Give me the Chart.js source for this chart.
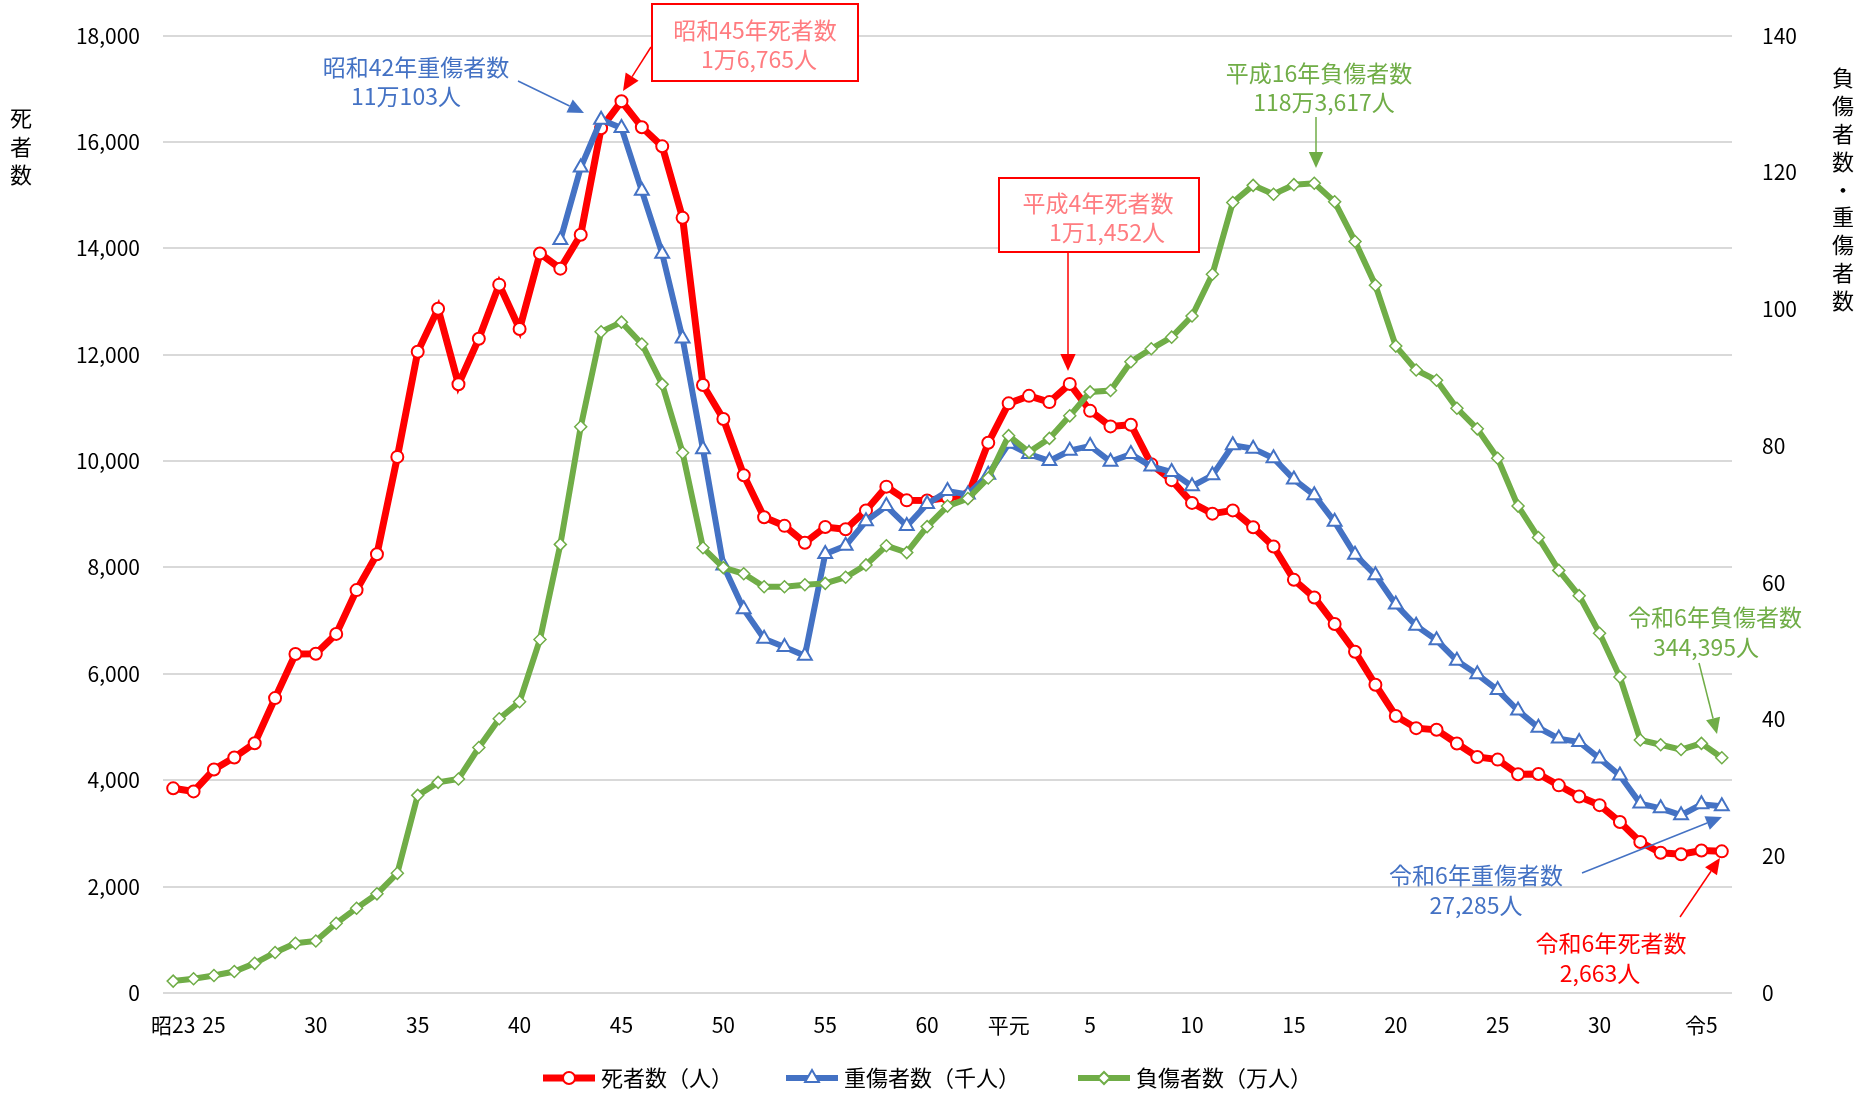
<!DOCTYPE html>
<html lang="ja">
<head>
<meta charset="utf-8">
<title>交通事故死者数・重傷者数・負傷者数の推移</title>
<script src="https://cdn.jsdelivr.net/npm/chart.js@4/dist/chart.umd.min.js"></script>
<style>
  html, body { margin: 0; padding: 0; background: #fff; }
  #wrap { width: 1858px; height: 1096px; }
</style>
</head>
<body>
<div id="wrap"><canvas id="grafico" width="1858" height="1096"></canvas></div>
<script>
// 年（昭和23年〜令和6年）
var anos = [
  1948, 1949, 1950, 1951, 1952, 1953, 1954, 1955, 1956, 1957,
  1958, 1959, 1960, 1961, 1962, 1963, 1964, 1965, 1966, 1967,
  1968, 1969, 1970, 1971, 1972, 1973, 1974, 1975, 1976, 1977,
  1978, 1979, 1980, 1981, 1982, 1983, 1984, 1985, 1986, 1987,
  1988, 1989, 1990, 1991, 1992, 1993, 1994, 1995, 1996, 1997,
  1998, 1999, 2000, 2001, 2002, 2003, 2004, 2005, 2006, 2007,
  2008, 2009, 2010, 2011, 2012, 2013, 2014, 2015, 2016, 2017,
  2018, 2019, 2020, 2021, 2022, 2023, 2024
];

// 死者数（人）
var mortos = [
  3848, 3790, 4202, 4429, 4696, 5544, 6374, 6379, 6751, 7575,
  8248, 10079, 12055, 12865, 11445, 12301, 13318, 12484, 13904, 13618,
  14256, 16257, 16765, 16278, 15918, 14574, 11432, 10792, 9734, 8945,
  8783, 8466, 8760, 8719, 9073, 9520, 9262, 9261, 9317, 9347,
  10344, 11086, 11227, 11109, 11452, 10945, 10653, 10684, 9943, 9642,
  9214, 9012, 9073, 8757, 8396, 7768, 7436, 6937, 6415, 5796,
  5209, 4979, 4948, 4691, 4438, 4388, 4113, 4117, 3904, 3694,
  3532, 3215, 2839, 2636, 2610, 2678, 2663
];

// 重傷者数（千人） 昭和42年から
var graves = [
  null, null, null, null, null, null, null, null, null, null,
  null, null, null, null, null, null, null, null, null, 110.1,
  120.7, 127.7, 126.5, 117.3, 108.1, 95.7, 79.5, 62.5, 56.1, 51.8,
  50.6, 49.3, 64.2, 65.4, 69.0, 71.2, 68.3, 71.5, 73.4, 72.9,
  75.8, 80.3, 78.8, 77.8, 79.3, 80.0, 77.7, 78.8, 77.0, 76.2,
  74.1, 75.7, 80.1, 79.6, 78.2, 75.1, 72.8, 68.9, 64.1, 61.1,
  56.8, 53.7, 51.6, 48.6, 46.6, 44.3, 41.3, 38.8, 37.2, 36.7,
  34.3, 31.8, 27.7, 27.0, 26.0, 27.6, 27.3
];

// 負傷者数（万人）
var feridos = [
  1.74, 2.09, 2.55, 3.14, 4.34, 5.93, 7.27, 7.61, 10.2, 12.4,
  14.5, 17.5, 28.9, 30.8, 31.3, 35.9, 40.1, 42.6, 51.7, 65.6,
  82.8, 96.7, 98.1, 94.9, 89.0, 79.0, 65.1, 62.2, 61.3, 59.4,
  59.4, 59.7, 59.9, 60.8, 62.6, 65.4, 64.4, 68.2, 71.2, 72.3,
  75.3, 81.5, 79.1, 81.1, 84.4, 87.9, 88.1, 92.3, 94.2, 95.9,
  99.0, 105.1, 115.6, 118.1, 116.8, 118.2, 118.4, 115.7, 109.9, 103.5,
  94.6, 91.1, 89.6, 85.5, 82.5, 78.2, 71.2, 66.6, 61.8, 58.1,
  52.6, 46.2, 37.0, 36.3, 35.6, 36.5, 34.4
];

// 横軸の目盛ラベル
var anosRotulo = [1948, 1950, 1955, 1960, 1965, 1970, 1975, 1980, 1985, 1989, 1993, 1998, 2003, 2008, 2013, 2018, 2023];
var textosRotulo = ["昭23", "25", "30", "35", "40", "45", "50", "55", "60", "平元", "5", "10", "15", "20", "25", "30", "令5"];

var FONTE = "'Noto Sans CJK JP', 'Noto Sans', sans-serif";
var VERMELHO = "#ff0000";
var AZUL = "#4472c4";
var VERDE = "#70ad47";

function marcador(ctx, tipo, x, y, r, cor, lw) {
  ctx.save();
  ctx.beginPath();
  if (tipo == "circle") {
    ctx.arc(x, y, r, 0, Math.PI * 2);
  } else if (tipo == "triangle") {
    for (var i = 0; i < 3; i++) {
      var a = i * Math.PI * 2 / 3;
      var px = x + Math.sin(a) * r, py = y - Math.cos(a) * r;
      if (i == 0) ctx.moveTo(px, py); else ctx.lineTo(px, py);
    }
    ctx.closePath();
  } else {
    ctx.moveTo(x - r, y);
    ctx.lineTo(x, y - r);
    ctx.lineTo(x + r, y);
    ctx.lineTo(x, y + r);
    ctx.closePath();
  }
  ctx.fillStyle = "#fff";
  ctx.fill();
  ctx.lineWidth = lw;
  ctx.strokeStyle = cor;
  ctx.stroke();
  ctx.restore();
}

function seta(ctx, x1, y1, x2, y2, cor, lw, cab) {
  var ang = Math.atan2(y2 - y1, x2 - x1);
  var bx = x2 - Math.cos(ang) * cab, by = y2 - Math.sin(ang) * cab;
  ctx.save();
  ctx.strokeStyle = cor;
  ctx.fillStyle = cor;
  ctx.lineWidth = lw;
  ctx.beginPath();
  ctx.moveTo(x1, y1);
  ctx.lineTo(bx, by);
  ctx.stroke();
  var meia = cab * 0.45;
  ctx.beginPath();
  ctx.moveTo(x2, y2);
  ctx.lineTo(bx + Math.sin(ang) * meia, by - Math.cos(ang) * meia);
  ctx.lineTo(bx - Math.sin(ang) * meia, by + Math.cos(ang) * meia);
  ctx.closePath();
  ctx.fill();
  ctx.restore();
}

function texto(ctx, t, x, y, cor, tam) {
  ctx.save();
  ctx.font = tam + "px " + FONTE;
  ctx.fillStyle = cor;
  ctx.textAlign = "center";
  ctx.textBaseline = "middle";
  ctx.fillText(t, x, y);
  ctx.restore();
}

function vertical(ctx, t, x, y0, passo, tam) {
  for (var i = 0; i < t.length; i++) {
    texto(ctx, t[i], x, y0 + i * passo, "#000", tam);
  }
}

var extras = {
  id: "extras",
  afterDraw: function (chart) {
    var ctx = chart.ctx;

    // 軸タイトル
    vertical(ctx, "死者数", 21, 118, 28.5, 22);
    vertical(ctx, "負傷者数・重傷者数", 1843, 78, 27.8, 22);

    // 昭和42年重傷者数
    texto(ctx, "昭和42年重傷者数", 416, 67, AZUL, 23);
    texto(ctx, "11万103人", 406, 96, AZUL, 23);
    seta(ctx, 518, 81, 584, 113, AZUL, 1.5, 16);

    // 昭和45年死者数
    ctx.save();
    ctx.fillStyle = "#fff";
    ctx.fillRect(652, 4, 206, 77);
    ctx.strokeStyle = VERMELHO;
    ctx.lineWidth = 2;
    ctx.strokeRect(652, 4, 206, 77);
    ctx.restore();
    texto(ctx, "昭和45年死者数", 755, 30, "#ff7c80", 23);
    texto(ctx, "1万6,765人", 759, 59, "#ff7c80", 23);
    seta(ctx, 651, 47, 623, 91, VERMELHO, 1.5, 17);

    // 平成4年死者数
    ctx.save();
    ctx.fillStyle = "#fff";
    ctx.fillRect(999, 178, 200, 74);
    ctx.strokeStyle = VERMELHO;
    ctx.lineWidth = 2;
    ctx.strokeRect(999, 178, 200, 74);
    ctx.restore();
    texto(ctx, "平成4年死者数", 1098, 203, "#ff7c80", 23);
    texto(ctx, "1万1,452人", 1107, 232, "#ff7c80", 23);
    seta(ctx, 1068, 253, 1068, 371, VERMELHO, 1.5, 17);

    // 平成16年負傷者数
    texto(ctx, "平成16年負傷者数", 1319, 73, VERDE, 23);
    texto(ctx, "118万3,617人", 1324, 102, VERDE, 23);
    seta(ctx, 1316, 117, 1316, 168, VERDE, 1.5, 16);

    // 令和6年負傷者数
    texto(ctx, "令和6年負傷者数", 1715, 617, VERDE, 23);
    texto(ctx, "344,395人", 1706, 647, VERDE, 23);
    seta(ctx, 1699, 663, 1717, 734, VERDE, 1.5, 16);

    // 令和6年重傷者数
    texto(ctx, "令和6年重傷者数", 1476, 875, AZUL, 23);
    texto(ctx, "27,285人", 1476, 905, AZUL, 23);
    seta(ctx, 1582, 873, 1722, 817, AZUL, 1.5, 16);

    // 令和6年死者数
    texto(ctx, "令和6年死者数", 1611, 943, VERMELHO, 23);
    texto(ctx, "2,663人", 1600, 973, VERMELHO, 23);
    seta(ctx, 1680, 917, 1720, 858, VERMELHO, 1.5, 16);

    // 凡例
    var itens = [
      { x: 569, cor: VERMELHO, lw: 7, tipo: "circle", r: 6, t: "死者数（人）" },
      { x: 812, cor: AZUL, lw: 6, tipo: "triangle", r: 8, t: "重傷者数（千人）" },
      { x: 1104, cor: VERDE, lw: 6, tipo: "diamond", r: 6, t: "負傷者数（万人）" }
    ];
    var ly = 1078;
    itens.forEach(function (it) {
      ctx.save();
      ctx.strokeStyle = it.cor;
      ctx.lineWidth = it.lw;
      ctx.beginPath();
      ctx.moveTo(it.x - 26, ly);
      ctx.lineTo(it.x + 26, ly);
      ctx.stroke();
      ctx.restore();
      marcador(ctx, it.tipo, it.x, ly, it.r, it.cor, 2);
      ctx.save();
      ctx.font = "22px " + FONTE;
      ctx.fillStyle = "#000";
      ctx.textAlign = "left";
      ctx.textBaseline = "middle";
      ctx.fillText(it.t, it.x + 32, ly);
      ctx.restore();
    });
  }
};

const ctxGrafico = document.getElementById("grafico");

const grafico = new Chart(ctxGrafico, {
  type: "line",
  data: {
    labels: anos,
    datasets: [
      {
        label: "死者数（人）",
        data: mortos,
        yAxisID: "y",
        borderColor: VERMELHO,
        borderWidth: 7,
        pointStyle: "circle",
        pointRadius: 6,
        pointBorderWidth: 2,
        pointBackgroundColor: "#fff",
        pointBorderColor: VERMELHO,
        tension: 0,
        order: 3
      },
      {
        label: "重傷者数（千人）",
        data: graves,
        yAxisID: "y1",
        borderColor: AZUL,
        borderWidth: 6,
        pointStyle: "triangle",
        pointRadius: 8,
        pointBorderWidth: 2,
        pointBackgroundColor: "#fff",
        pointBorderColor: AZUL,
        tension: 0,
        order: 2
      },
      {
        label: "負傷者数（万人）",
        data: feridos,
        yAxisID: "y1",
        borderColor: VERDE,
        borderWidth: 6,
        pointStyle: "rectRot",
        pointRadius: 6,
        pointBorderWidth: 1.5,
        pointBackgroundColor: "#fff",
        pointBorderColor: VERDE,
        tension: 0,
        order: 1
      }
    ]
  },
  options: {
    responsive: false,
    animation: false,
    devicePixelRatio: 1,
    layout: { padding: { top: 33, left: 0, right: 0, bottom: 0 } },
    plugins: {
      legend: { display: false },
      tooltip: { enabled: false }
    },
    scales: {
      x: {
        offset: true,
        grid: { display: false },
        border: { display: false },
        ticks: {
          autoSkip: false,
          maxRotation: 0,
          minRotation: 0,
          padding: 11,
          color: "#000",
          font: { family: FONTE, size: 21 },
          callback: function (valor, indice) {
            var k = anosRotulo.indexOf(anos[indice]);
            return k >= 0 ? textosRotulo[k] : "";
          }
        },
        afterFit: function (escala) { escala.height = 103; }
      },
      y: {
        position: "left",
        min: 0,
        max: 18000,
        grid: { color: "#d9d9d9", lineWidth: 2, drawTicks: false },
        border: { display: false },
        ticks: {
          stepSize: 2000,
          padding: 23,
          color: "#000",
          font: { family: FONTE, size: 21 },
          callback: function (v) { return v.toLocaleString("en-US"); }
        },
        afterFit: function (escala) { escala.width = 163; }
      },
      y1: {
        position: "right",
        min: 0,
        max: 140,
        grid: { display: false },
        border: { display: false },
        ticks: {
          stepSize: 20,
          padding: 22,
          color: "#000",
          font: { family: FONTE, size: 21 }
        },
        afterFit: function (escala) { escala.width = 126; }
      }
    }
  },
  plugins: [extras]
});
</script>
</body>
</html>
